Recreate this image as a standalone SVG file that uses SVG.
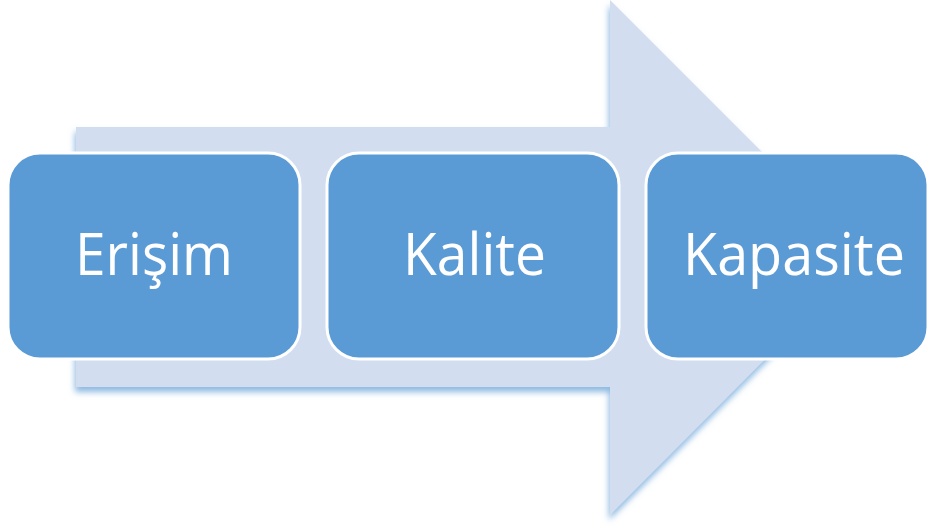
<svg xmlns="http://www.w3.org/2000/svg" width="930" height="530" viewBox="0 0 930 530">
<style>
.box{fill:#5B9BD5;stroke:#FFFFFF;stroke-width:3}
.lbl{font-family:"Open Sans","Liberation Sans",sans-serif;font-size:58px;fill:#FFFFFF;text-anchor:middle}
</style>
<defs>
<filter id="sh" x="-10%" y="-10%" width="120%" height="120%">
<feDropShadow dx="-1" dy="5" stdDeviation="3" flood-color="#5B9BD5" flood-opacity="0.7"/>
</filter>
</defs>
<rect width="930" height="530" fill="#FFFFFF"/>
<g id="connectors">
<path id="arrow" d="M76,127 H610 V0 L867,257 L610,515 V387 H76 Z" fill="#D2DEEF" filter="url(#sh)"/>
</g>
<g id="node1">
<rect class="box" x="8" y="153" width="292" height="206" rx="32"/>
<text class="lbl" x="154" y="275" textLength="158" lengthAdjust="spacingAndGlyphs">Erişim</text>
</g>
<g id="node2">
<rect class="box" x="327" y="153" width="292" height="206" rx="32"/>
<text class="lbl" x="474.5" y="275" textLength="143" lengthAdjust="spacingAndGlyphs">Kalite</text>
</g>
<g id="node3">
<rect class="box" x="646" y="153" width="282" height="206" rx="32"/>
<text class="lbl" x="794" y="275" textLength="222" lengthAdjust="spacingAndGlyphs">Kapasite</text>
</g>
</svg>
